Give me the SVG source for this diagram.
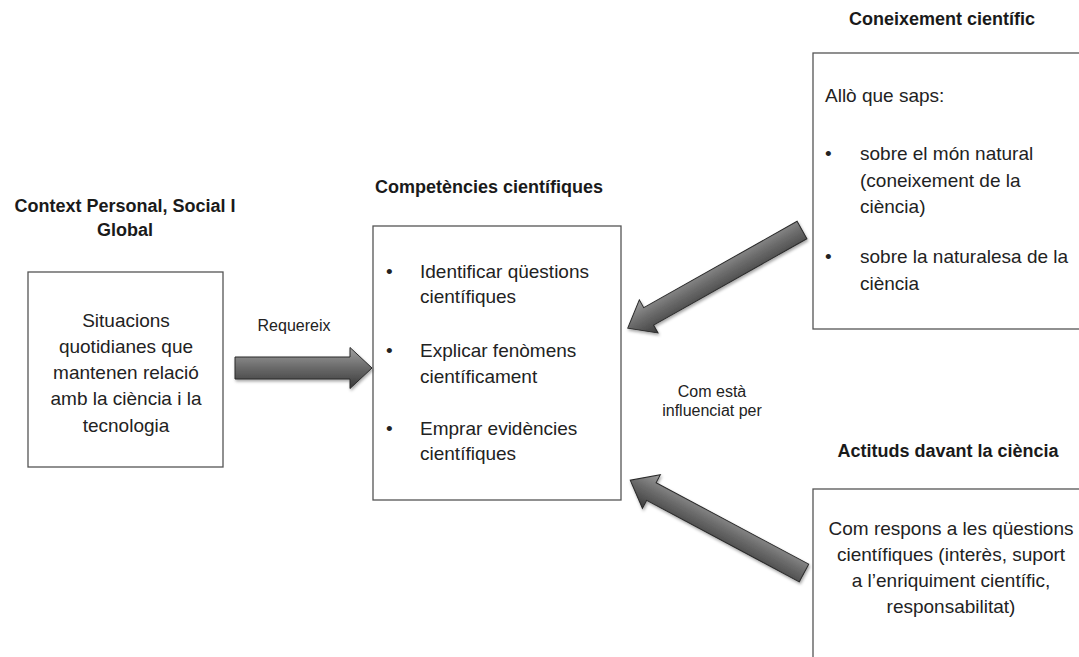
<svg xmlns="http://www.w3.org/2000/svg" width="1079" height="657" viewBox="0 0 1079 657">
  <style>
    .box { fill: #ffffff; stroke: #555555; stroke-width: 1.3; }
    .title { font-family: "Liberation Sans", Arial, sans-serif; font-weight: bold; font-size: 18px; fill: #1a1a1a; }
    .body { font-family: "Liberation Sans", Arial, sans-serif; font-size: 19px; fill: #222222; }
    .small { font-family: "Liberation Sans", Arial, sans-serif; font-size: 16px; fill: #222222; }
    .mid { text-anchor: middle; }
    .arrow { fill: url(#arrowGrad); stroke: #2a2a2a; stroke-width: 1; stroke-linejoin: miter; }
  </style>
  <defs>
    <linearGradient id="arrowGrad" gradientUnits="userSpaceOnUse" x1="0" y1="-20" x2="0" y2="20">
      <stop offset="0" stop-color="#a0a0a0"/>
      <stop offset="0.45" stop-color="#6e6e6e"/>
      <stop offset="1" stop-color="#3a3a3a"/>
    </linearGradient>
    <filter id="shadow" x="-20%" y="-40%" width="140%" height="180%">
      <feDropShadow dx="1" dy="2" stdDeviation="1.5" flood-color="#000000" flood-opacity="0.35"/>
    </filter>
  </defs>

  <g id="context">
    <text class="title mid" x="125" y="212">Context Personal, Social I</text>
    <text class="title mid" x="125" y="236">Global</text>
    <rect class="box" x="28" y="272" width="195" height="195"/>
    <text class="body mid" x="126" y="327">Situacions</text>
    <text class="body mid" x="126" y="353">quotidianes que</text>
    <text class="body mid" x="126" y="379">mantenen relació</text>
    <text class="body mid" x="126" y="405">amb la ciència i la</text>
    <text class="body mid" x="126" y="432">tecnologia</text>
  </g>

  <g id="competencies">
    <text class="title mid" x="489" y="193">Competències científiques</text>
    <rect class="box" x="373" y="226" width="248" height="274"/>
    <text class="body" x="386" y="278">•</text>
    <text class="body" x="420" y="278">Identificar qüestions</text>
    <text class="body" x="420" y="303">científiques</text>
    <text class="body" x="386" y="357">•</text>
    <text class="body" x="420" y="357">Explicar fenòmens</text>
    <text class="body" x="420" y="383">científicament</text>
    <text class="body" x="386" y="435">•</text>
    <text class="body" x="420" y="435">Emprar evidències</text>
    <text class="body" x="420" y="460">científiques</text>
  </g>

  <g id="coneixement">
    <text class="title mid" x="942" y="25">Coneixement científic</text>
    <rect class="box" x="813" y="53" width="280" height="276"/>
    <text class="body" x="825" y="102">Allò que saps:</text>
    <text class="body" x="825" y="160">•</text>
    <text class="body" x="860" y="160">sobre el món natural</text>
    <text class="body" x="860" y="187">(coneixement de la</text>
    <text class="body" x="860" y="213">ciència)</text>
    <text class="body" x="825" y="263">•</text>
    <text class="body" x="860" y="263">sobre la naturalesa de la</text>
    <text class="body" x="860" y="290">ciència</text>
  </g>

  <g id="actituds">
    <text class="title mid" x="948" y="457">Actituds davant la ciència</text>
    <rect class="box" x="813" y="489" width="280" height="190"/>
    <text class="body mid" x="951" y="535">Com respons a les qüestions</text>
    <text class="body mid" x="951" y="561">científiques (interès, suport</text>
    <text class="body mid" x="951" y="587">a l’enriquiment científic,</text>
    <text class="body mid" x="951" y="613">responsabilitat)</text>
  </g>

  <g id="connectors">
    <g filter="url(#shadow)">
      <path class="arrow" transform="translate(235,368)" d="M0,-11 L115,-11 L115,-20.5 L137,0 L115,20.5 L115,11 L0,11 Z"/>
    </g>
    <g filter="url(#shadow)">
      <path class="arrow" transform="translate(802,230) rotate(150.6) scale(1,-1)" d="M0,-10 L176,-10 L176,-19 L200,0 L176,19 L176,10 L0,10 Z"/>
    </g>
    <g filter="url(#shadow)">
      <path class="arrow" transform="translate(804,573) rotate(208.1) scale(1,-1)" d="M0,-10 L173,-10 L173,-19 L197,0 L173,19 L173,10 L0,10 Z"/>
    </g>
    <text class="small mid" x="294" y="331">Requereix</text>
    <text class="small mid" x="712" y="397">Com està</text>
    <text class="small mid" x="712" y="416">influenciat per</text>
  </g>
</svg>
